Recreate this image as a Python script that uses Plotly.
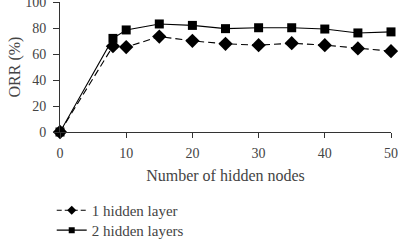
import plotly.graph_objects as go

nodes = [0, 8, 10, 15, 20, 25, 30, 35, 40, 45, 50]
one_layer = [0, 66, 65.3, 73.4, 70.1, 67.8, 66.8, 68.3, 66.8, 64.3, 62.2]
two_layers = [0, 72, 78.5, 83.1, 82, 79.5, 80.2, 80.2, 79.2, 76.2, 77]
series_names = ["1 hidden layer", "2 hidden layers"]

fam = "Liberation Serif, DejaVu Serif, serif"
grey = "#444"

fig = go.Figure()
fig.add_trace(go.Scatter(x=nodes, y=one_layer, name=series_names[0], mode="lines+markers",
                         line=dict(color="black", width=1.1, dash="7px,4px"),
                         marker=dict(symbol="diamond", size=11, color="black"),
                         cliponaxis=False, showlegend=False))
fig.add_trace(go.Scatter(x=nodes, y=two_layers, name=series_names[1], mode="lines+markers",
                         line=dict(color="black", width=1.1),
                         marker=dict(symbol="square", size=9, color="black"),
                         cliponaxis=False, showlegend=False))
# legend-only entries with smaller symbols, as in the reference
fig.add_trace(go.Scatter(x=[None], y=[None], name=series_names[0], mode="lines+markers",
                         line=dict(color="black", width=1.1, dash="5px,3px"),
                         marker=dict(symbol="diamond", size=7, color="black"),
                         legend="legend"))
fig.add_trace(go.Scatter(x=[None], y=[None], name=series_names[1], mode="lines+markers",
                         line=dict(color="black", width=1.1),
                         marker=dict(symbol="square", size=6, color="black"),
                         legend="legend2"))

leg_common = dict(x=-0.025, xanchor="left", yanchor="top",
                  font=dict(family=fam, size=15, color=grey),
                  itemwidth=30, bgcolor="rgba(0,0,0,0)")

fig.update_layout(
    width=398, height=244,
    margin=dict(l=60, r=7, t=2, b=112, autoexpand=False),
    paper_bgcolor="white", plot_bgcolor="white",
    font=dict(family=fam, size=14, color=grey),
    showlegend=True,
    legend=dict(y=-0.477, **leg_common),
    legend2=dict(y=-0.63, **leg_common),
    xaxis=dict(range=[0, 50], tickvals=[0, 10, 20, 30, 40, 50], showgrid=False, zeroline=False,
               showline=True, linecolor="#333", linewidth=1, ticks="outside", ticklen=5,
               tickcolor="#333", ticklabelstandoff=3, automargin=False,
               tickfont=dict(family=fam, size=14, color=grey),
               title=dict(text="Number of hidden nodes", standoff=10,
                          font=dict(family=fam, size=16, color=grey))),
    yaxis=dict(range=[0, 100], tickvals=[0, 20, 40, 60, 80, 100], showgrid=False, zeroline=False,
               showline=True, linecolor="#333", linewidth=1, ticks="outside", ticklen=6,
               tickcolor="#333", ticklabelstandoff=4, ticklabeloverflow="allow", automargin=False,
               tickfont=dict(family=fam, size=14, color=grey),
               title=dict(text="ORR (%)", standoff=0,
                          font=dict(family=fam, size=16, color=grey))),
)

fig.write_html("out.html")
